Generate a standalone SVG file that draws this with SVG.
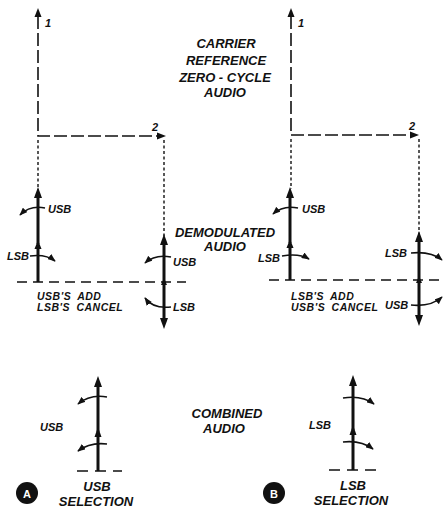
<svg xmlns="http://www.w3.org/2000/svg" width="443" height="508" viewBox="0 0 443 508">
<style>
.big{font-family:"Liberation Sans",Arial,sans-serif;font-style:italic;font-weight:bold;font-size:13px;fill:#111;text-anchor:middle}
.sm{font-family:"Liberation Sans",Arial,sans-serif;font-style:italic;font-weight:bold;font-size:11px;fill:#111}
.cap{font-family:"Liberation Sans",Arial,sans-serif;font-style:italic;font-weight:bold;font-size:10.5px;fill:#111;letter-spacing:0.5px;word-spacing:3px}
.ph{stroke:#111;stroke-width:3;fill:none}
.arc{stroke:#111;stroke-width:1.6;fill:none}
.dash{stroke:#111;stroke-width:1.5;fill:none}
.ax{stroke:#111;stroke-width:1.6;fill:none}
.dot{stroke:#111;stroke-width:1.4;stroke-dasharray:3 2.5;fill:none}
.hd{fill:#111}
</style>
<defs>
<marker id="ah" viewBox="0 0 10 8" refX="9" refY="4" markerWidth="8" markerHeight="6.5" markerUnits="userSpaceOnUse" orient="auto">
<path d="M0,0 L10,4 L0,8 z" fill="#111"/>
</marker>
</defs>
<rect width="443" height="508" fill="#fff"/>

<!-- Carrier reference axes A -->
<g id="ref-A">
<path class="ax" d="M38,16 V136 H158" stroke-dasharray="13 4"/>
<polygon class="hd" points="38,8 34.5,17 41.5,17"/>
<polygon class="hd" points="166,136 157,132.5 157,139.5"/>
<text class="sm" x="45" y="27">1</text>
<text class="sm" x="152" y="131">2</text>
</g>
<!-- Carrier reference axes B -->
<g id="ref-B">
<path class="ax" d="M291,16 V135 H411" stroke-dasharray="13 4"/>
<polygon class="hd" points="291,8 287.5,17 294.5,17"/>
<polygon class="hd" points="419,135 410,131.5 410,138.5"/>
<text class="sm" x="298" y="27">1</text>
<text class="sm" x="409" y="130">2</text>
</g>

<g id="label-carrier">
<text class="big" x="226" y="48">CARRIER</text>
<text class="big" x="226" y="65">REFERENCE</text>
<text class="big" x="225" y="82">ZERO - CYCLE</text>
<text class="big" x="225" y="97">AUDIO</text>
</g>

<!-- connectors: projection lines -->
<g id="connectors">
<line class="dot" x1="38" y1="140" x2="38" y2="190"/>
<line class="dot" x1="164" y1="140" x2="164" y2="236"/>
<line class="dot" x1="291" y1="139" x2="291" y2="189"/>
<line class="dot" x1="419" y1="139" x2="419" y2="234"/>
<line class="dash" x1="17" y1="282" x2="186" y2="282" stroke-dasharray="10 6"/>
<line class="dash" x1="269" y1="280" x2="443" y2="280" stroke-dasharray="10 6"/>
<line class="dash" x1="77" y1="471" x2="122" y2="471" stroke-dasharray="11 7"/>
<line class="dash" x1="329" y1="470" x2="378" y2="470" stroke-dasharray="11 7"/>
</g>

<g id="label-demod">
<text class="big" x="225" y="237">DEMODULATED</text>
<text class="big" x="225" y="251">AUDIO</text>
</g>

<!-- Demodulated A1 -->
<g id="demod-A1">
<line class="ph" x1="38" y1="282" x2="38" y2="246"/>
<polygon class="hd" points="38,240 34.5,249 41.5,249"/>
<line class="ph" x1="38" y1="244" x2="38" y2="196"/>
<polygon class="hd" points="38,187 34,198 42,198"/>
<path class="arc" d="M45,208 Q30,205 20,215" marker-end="url(#ah)"/>
<path class="arc" d="M30,256 Q46,254 55,261" marker-end="url(#ah)"/>
<text class="sm" x="48" y="213">USB</text>
<text class="sm" x="7" y="260">LSB</text>
</g>

<!-- Demodulated A2 -->
<g id="demod-A2">
<line class="ph" x1="164" y1="244" x2="164" y2="321"/>
<polygon class="hd" points="164,234 160,245 168,245"/>
<polygon class="hd" points="164,329 160,318 168,318"/>
<polygon class="hd" points="164,278 161,285 167,285"/>
<path class="arc" d="M171,257 Q155,254 145,263" marker-end="url(#ah)"/>
<path class="arc" d="M171,307 Q153,309 145,298" marker-end="url(#ah)"/>
<text class="sm" x="173" y="266">USB</text>
<text class="sm" x="173" y="311">LSB</text>
</g>

<g id="note-A">
<text class="cap" x="37" y="300">USB'S ADD</text>
<text class="cap" x="37" y="311">LSB'S CANCEL</text>
</g>

<!-- Demodulated B1 -->
<g id="demod-B1">
<line class="ph" x1="290" y1="280" x2="290" y2="245"/>
<polygon class="hd" points="290,239 286.5,248 293.5,248"/>
<line class="ph" x1="290" y1="243" x2="290" y2="196"/>
<polygon class="hd" points="290,187 286,198 294,198"/>
<path class="arc" d="M298,208 Q283,205 273,214" marker-end="url(#ah)"/>
<path class="arc" d="M282,256 Q299,253 309,259" marker-end="url(#ah)"/>
<text class="sm" x="302" y="213">USB</text>
<text class="sm" x="258" y="262">LSB</text>
</g>

<!-- Demodulated B2 -->
<g id="demod-B2">
<line class="ph" x1="419" y1="241" x2="419" y2="318"/>
<polygon class="hd" points="419,231 415,242 423,242"/>
<polygon class="hd" points="419,326 415,315 423,315"/>
<polygon class="hd" points="419,276 416,283 422,283"/>
<path class="arc" d="M411,253 Q431,251 442,260" marker-end="url(#ah)"/>
<path class="arc" d="M411,305 Q431,307 442,297" marker-end="url(#ah)"/>
<text class="sm" x="385" y="257">LSB</text>
<text class="sm" x="385" y="309">USB</text>
</g>

<g id="note-B">
<text class="cap" x="291" y="300">LSB'S ADD</text>
<text class="cap" x="291" y="311">USB'S CANCEL</text>
</g>

<g id="label-combined">
<text class="big" x="227" y="418">COMBINED</text>
<text class="big" x="224" y="433">AUDIO</text>
</g>

<!-- Combined A -->
<g id="combined-A">
<line class="ph" x1="98" y1="471" x2="98" y2="434"/>
<polygon class="hd" points="98,427 94.5,437 101.5,437"/>
<line class="ph" x1="98" y1="432" x2="98" y2="385"/>
<polygon class="hd" points="98,376 94,387 102,387"/>
<path class="arc" d="M107,397 Q90,394 78,404" marker-end="url(#ah)"/>
<path class="arc" d="M107,444 Q90,442 78,451" marker-end="url(#ah)"/>
<text class="sm" x="40" y="431">USB</text>
</g>

<!-- Combined B -->
<g id="combined-B">
<line class="ph" x1="353" y1="470" x2="353" y2="432"/>
<polygon class="hd" points="353,425 349.5,435 356.5,435"/>
<line class="ph" x1="353" y1="430" x2="353" y2="384"/>
<polygon class="hd" points="353,375 349,386 357,386"/>
<path class="arc" d="M343,398 Q362,395 374,404" marker-end="url(#ah)"/>
<path class="arc" d="M343,442 Q361,440 373,449" marker-end="url(#ah)"/>
<text class="sm" x="309" y="429">LSB</text>
</g>

<g id="caption-A">
<circle cx="27" cy="493" r="11" fill="#111"/>
<text x="27" y="497.5" font-family="Liberation Sans, Arial, sans-serif" font-weight="bold" font-size="11" fill="#fff" text-anchor="middle">A</text>
<text class="big" x="97" y="491">USB</text>
<text class="big" x="96" y="506">SELECTION</text>
</g>

<g id="caption-B">
<circle cx="274" cy="493" r="11" fill="#111"/>
<text x="274" y="497.5" font-family="Liberation Sans, Arial, sans-serif" font-weight="bold" font-size="11" fill="#fff" text-anchor="middle">B</text>
<text class="big" x="353" y="490">LSB</text>
<text class="big" x="351" y="505">SELECTION</text>
</g>
</svg>
